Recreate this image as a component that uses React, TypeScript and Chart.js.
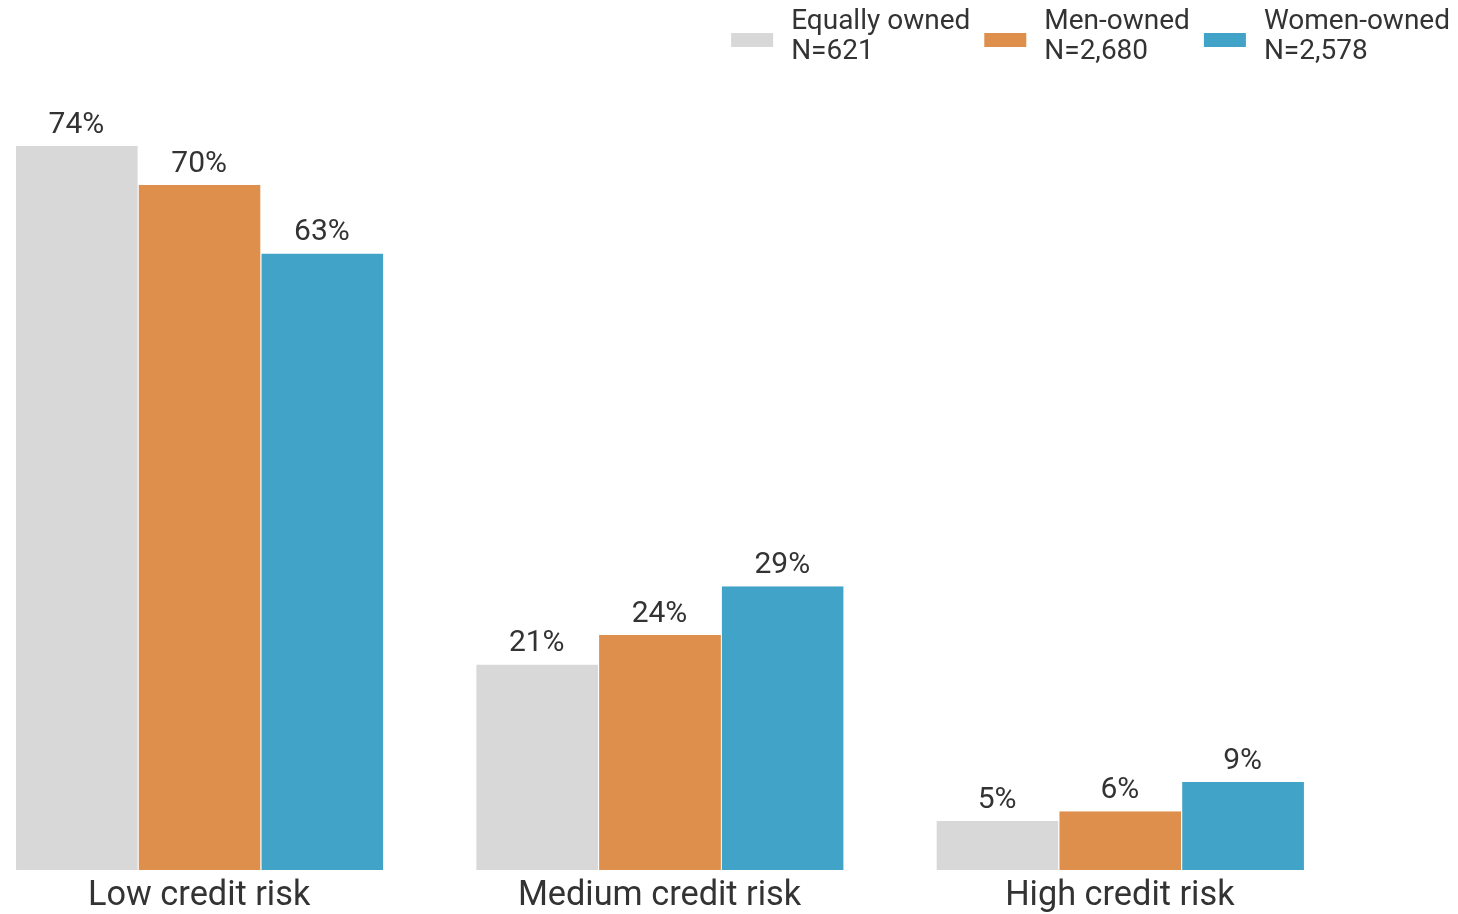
import React, { useEffect, useRef } from "react";
import { Chart, registerables } from "chart.js";

Chart.register(...registerables);

const categories = ["Low credit risk", "Medium credit risk", "High credit risk"];
const seriesNames = ["Equally owned", "Men-owned", "Women-owned"];
const seriesN = ["N=621", "N=2,680", "N=2,578"];
const equallyOwned = [74, 21, 5];
const menOwned = [70, 24, 6];
const womenOwned = [63, 29, 9];
const colors = ["#d8d8d8", "#de8f4c", "#42a3c8"];

const FONT = "Roboto, 'Noto Sans', sans-serif";
const TEXT = "#333333";

const valueLabels = {
  id: "valueLabels",
  afterDatasetsDraw(chart: any) {
    const ctx = chart.ctx;
    ctx.save();
    ctx.font = `30px ${FONT}`;
    ctx.fillStyle = TEXT;
    ctx.textAlign = "center";
    ctx.textBaseline = "alphabetic";
    chart.data.datasets.forEach((ds: any, i: number) => {
      const meta = chart.getDatasetMeta(i);
      meta.data.forEach((el: any, j: number) => {
        ctx.fillText(`${ds.data[j]}%`, el.x, el.y - 13);
      });
    });
    ctx.restore();
  },
};

const customLegend = {
  id: "customLegend",
  afterDraw(chart: any) {
    const ctx = chart.ctx;
    ctx.save();
    ctx.font = `28px ${FONT}`;
    const boxW = 42;
    const boxH = 14;
    const gapBoxText = 18;
    const gapItems = 14;
    const rightEdge = chart.width - 6;
    const items = chart.data.datasets.map((ds: any, i: number) => {
      const lines = [seriesNames[i], seriesN[i]];
      const tw = Math.max(...lines.map((l) => ctx.measureText(l).width));
      return { lines, tw, color: ds.backgroundColor };
    });
    const total =
      items.reduce((s: number, it: any) => s + boxW + gapBoxText + it.tw, 0) +
      gapItems * (items.length - 1);
    let x = rightEdge - total;
    items.forEach((it: any) => {
      ctx.fillStyle = it.color;
      ctx.fillRect(x, 33, boxW, boxH);
      ctx.fillStyle = TEXT;
      ctx.textAlign = "left";
      ctx.textBaseline = "middle";
      ctx.fillText(it.lines[0], x + boxW + gapBoxText, 22);
      ctx.fillText(it.lines[1], x + boxW + gapBoxText, 52);
      x += boxW + gapBoxText + it.tw + gapItems;
    });
    ctx.restore();
  },
};

export default function App() {
  const ref = useRef<HTMLCanvasElement>(null);
  useEffect(() => {
    if (!ref.current) return;
    const series = [equallyOwned, menOwned, womenOwned];
    const chart = new Chart(ref.current, {
      type: "bar",
      data: {
        labels: categories,
        datasets: series.map((d, i) => ({
          label: seriesNames[i],
          data: d,
          backgroundColor: colors[i],
          borderColor: "#ffffff",
          borderWidth: { left: 1, right: 0, top: 0, bottom: 0 },
          categoryPercentage: 0.8,
          barPercentage: 1.0,
        })),
      },
      options: {
        animation: false,
        responsive: true,
        maintainAspectRatio: false,
        layout: { padding: { left: 9, right: 106, top: 87, bottom: 0 } },
        plugins: {
          legend: { display: false },
          tooltip: { enabled: false },
        },
        scales: {
          x: {
            grid: { display: false, drawTicks: false },
            border: { display: false },
            ticks: {
              color: TEXT,
              font: { family: FONT, size: 34.3, lineHeight: 1 },
              padding: 8.85,
            },
          },
          y: {
            display: false,
            min: 0,
            max: 80,
          },
        },
      },
      plugins: [valueLabels, customLegend],
    });
    return () => chart.destroy();
  }, []);
  return (
    <div
      style={{
        position: "absolute",
        left: 0,
        top: 0,
        width: 1458,
        height: 914,
        overflow: "hidden",
        background: "#ffffff",
      }}
    >
      <div
        style={{
          position: "absolute",
          left: -40,
          top: 0,
          width: 1496,
          height: 922,
        }}
      >
        <canvas ref={ref} />
      </div>
    </div>
  );
}
